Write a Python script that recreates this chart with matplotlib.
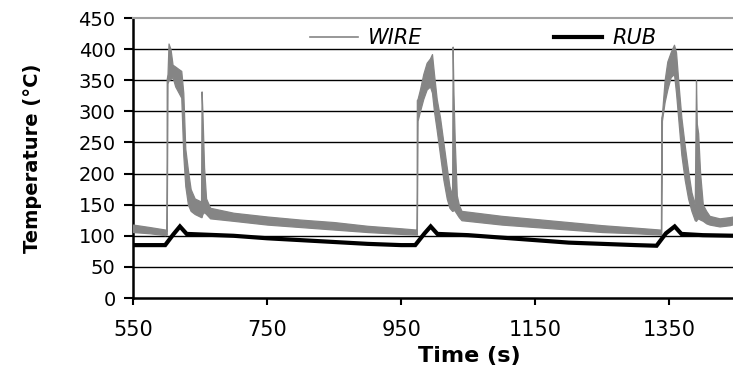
import matplotlib
matplotlib.use("Agg")
import matplotlib.pyplot as plt
from matplotlib.lines import Line2D
from matplotlib import font_manager

# ---- data ----
# WIRE thermocouple: noisy signal, kept as lower / upper envelope of the trace
wire_t = [550, 575, 598, 600.0, 600.3, 601.5, 603, 606, 609, 613, 618, 622, 625, 628, 632, 636, 642,
          651.5, 652.3, 653.5, 656, 659, 665, 700, 750, 800, 850, 900, 950, 972,
          973.0, 973.4, 974.5, 978, 983, 988, 993, 996, 999, 1003, 1008, 1013, 1018, 1022, 1026,
          1026.8, 1028, 1030, 1033, 1036, 1040, 1100, 1150, 1200, 1250, 1300, 1336,
          1337.5, 1338, 1339, 1343, 1347, 1352, 1357, 1360, 1364, 1368, 1373, 1378, 1383, 1388,
          1389.8, 1391, 1393, 1396, 1400, 1405, 1410, 1425, 1440, 1450]
wire_lo = [106, 104, 101, 102, 102, 345, 350, 352, 355, 340, 330, 322, 230, 180, 150, 140, 135,
           130, 130, 135, 138, 135, 128, 124, 118, 114, 110, 106, 103, 102,
           102, 102, 285, 300, 320, 335, 340, 330, 300, 270, 230, 190, 160, 145, 140,
           140, 142, 140, 135, 130, 125, 118, 114, 110, 106, 104, 102,
           102, 102, 285, 315, 335, 355, 360, 330, 280, 230, 190, 160, 140, 125,
           124, 126, 128, 126, 124, 120, 118, 115, 117, 120]
wire_hi = [118, 114, 110, 108, 352, 360, 409, 400, 375, 372, 368, 365, 330, 240, 205, 175, 160,
           155, 332, 300, 210, 160, 145, 137, 131, 126, 122, 116, 112, 110,
           110, 318, 320, 335, 360, 378, 385, 392, 360, 320, 290, 250, 210, 180, 165,
           404, 330, 250, 165, 150, 140, 132, 127, 122, 117, 113, 110,
           110, 290, 295, 350, 380, 395, 407, 395, 340, 290, 245, 205, 170, 150,
           350, 280, 265, 200, 150, 140, 132, 128, 130, 132]

# RUB thermocouple
rub_t = [550, 598, 610, 620, 630, 700, 750, 800, 850, 900, 950, 971,
         985, 994, 1004, 1050, 1100, 1150, 1200, 1250, 1300, 1331,
         1345, 1358, 1368, 1400, 1450]
rub_T = [85, 85, 102, 115, 103, 100, 96, 93, 90, 87, 85, 85,
         104, 115, 103, 101, 97, 93, 89, 87, 85, 84,
         104, 115, 103, 101, 100]

x_ticks = [550, 750, 950, 1150, 1350]
y_ticks = [0, 50, 100, 150, 200, 250, 300, 350, 400, 450]

# ---- fonts ----
installed = {f.name for f in font_manager.fontManager.ttflist}
if "Liberation Sans Narrow" in installed:
    ylab_font, ylab_size = "Liberation Sans Narrow", 19
elif "DejaVu Sans Condensed" in installed:
    ylab_font, ylab_size = "DejaVu Sans Condensed", 16
else:
    ylab_font, ylab_size = "DejaVu Sans", 14

plt.rcParams["font.family"] = ["DejaVu Sans"]

fig = plt.figure(figsize=(7.33, 3.74), dpi=100)
ax = fig.add_axes([133 / 733, 76 / 374, 600 / 733, 280 / 374])

wire_grey = "#858585"
ax.fill_between(wire_t, wire_lo, wire_hi, color=wire_grey, lw=0.9, zorder=3)
ax.plot(rub_t, rub_T, color="black", lw=3.0, solid_joinstyle="miter", zorder=4)

ax.set_xlim(550, 1445)
ax.set_ylim(0, 450)
ax.set_xticks(x_ticks)
ax.set_yticks(y_ticks)

# gridlines (black), top frame grey
for v in y_ticks[1:-1]:
    ax.axhline(v, color="black", lw=1.0, zorder=1)
ax.spines["right"].set_visible(False)
ax.spines["top"].set_color("#a0a0a0")
ax.spines["top"].set_linewidth(1.5)
ax.spines["left"].set_linewidth(1.8)
ax.spines["bottom"].set_linewidth(1.8)

ax.tick_params(axis="y", direction="out", length=6.5, width=1.5, labelsize=14, pad=6)
ax.tick_params(axis="x", direction="out", length=5, width=1.5, labelsize=15, pad=11)

ax.set_xlabel("Time (s)", fontsize=16, fontweight="bold")
ax.xaxis.set_label_coords((469 - 133) / 600, -0.17)
ax.set_ylabel("Temperature (°C)", family=[ylab_font, "DejaVu Sans"], fontsize=ylab_size,
              fontweight="bold")
ax.yaxis.set_label_coords((42 - 133) / 600, 0.5)

handles = [Line2D([], [], color=wire_grey, lw=1.2),
           Line2D([], [], color="black", lw=3.0)]
ax.legend(handles, ["WIRE", "RUB"], ncol=2, frameon=False, loc="center left",
          bbox_to_anchor=((310 - 133) / 600, (298 - 38) / 280),
          prop={"style": "italic", "size": 15}, borderpad=0, borderaxespad=0,
          handlelength=2.3, handletextpad=0.5, columnspacing=6.3)

fig.savefig("out.png", dpi=100)
